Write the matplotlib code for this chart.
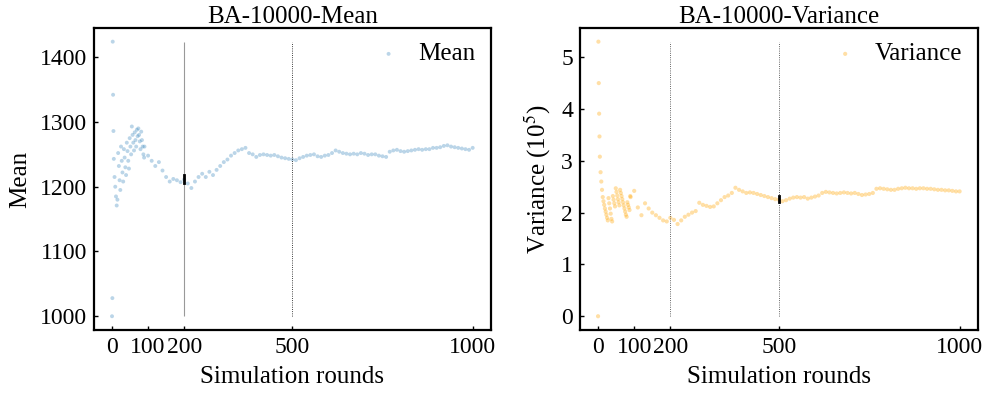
import numpy as np
import matplotlib.pyplot as plt

plt.rcParams['font.family'] = ['Liberation Serif', 'DejaVu Serif']
plt.rcParams['mathtext.fontset'] = 'stix'

# simulation rounds and values
rounds_early = [0, 1, 2, 3, 4,
                5, 7, 9, 11, 13, 15, 17, 19, 21, 23, 25, 27, 29, 31, 33, 35, 37, 39,
                41, 43, 45, 47, 49, 51, 53, 55, 57, 59, 61, 63, 65, 67, 69, 71, 73,
                75, 77, 79, 81, 83, 85, 87, 89]
mean_early = [1000, 1028, 1424, 1342, 1286,
              1243, 1215, 1200, 1185, 1171, 1180, 1252, 1232, 1210, 1195, 1262,
              1240, 1222, 1208, 1258, 1245, 1230, 1218, 1268, 1255, 1240, 1228,
              1275, 1262, 1250, 1293, 1280, 1268, 1256, 1284, 1272, 1262, 1288,
              1278, 1290, 1280, 1270, 1258, 1285, 1272, 1262, 1250, 1245]

rounds_late = list(range(90, 1001, 10))
mean_late = [1262, 1248, 1240, 1232, 1238, 1225, 1215, 1208, 1212, 1210, 1207,
             1211, 1205, 1198, 1208, 1215, 1220, 1215, 1223, 1218, 1226, 1232,
             1238, 1242, 1248, 1252, 1256, 1258, 1260, 1252, 1250, 1246, 1249,
             1250, 1249, 1248, 1249, 1247, 1245, 1244, 1243, 1242, 1241, 1244,
             1246, 1248, 1249, 1250, 1247, 1246, 1248, 1249, 1252, 1256, 1254,
             1252, 1251, 1250, 1251, 1250, 1252, 1251, 1249, 1250, 1250, 1248,
             1247, 1246, 1254, 1256, 1257, 1255, 1254, 1255, 1256, 1257, 1258,
             1257, 1258, 1258, 1260, 1260, 1261, 1263, 1264, 1262, 1261, 1260,
             1259, 1258, 1257, 1260]

var_early = [0.00, 5.30, 4.50, 3.91, 3.47,
             3.08, 2.78, 2.60, 2.44, 2.30, 2.22, 2.15, 2.08, 2.02, 1.96, 1.90,
             1.85, 2.28, 2.18, 2.08, 1.98, 1.88, 1.83, 2.32, 2.25, 2.18, 2.12,
             2.47, 2.40, 2.33, 2.26, 2.20, 2.14, 2.44, 2.38, 2.32, 2.26, 2.20,
             2.14, 2.08, 2.02, 1.96, 1.92, 2.20, 2.15, 2.10, 2.05, 2.32]
var_late = [2.30, 2.42, 2.10, 1.95, 2.18, 2.08, 2.00, 1.95, 1.90, 1.85, 1.83,
            1.90, 1.86, 1.78, 1.85, 1.92, 1.96, 2.00, 2.03, 2.19, 2.15, 2.13,
            2.11, 2.12, 2.18, 2.24, 2.30, 2.33, 2.38, 2.48, 2.44, 2.41, 2.38,
            2.39, 2.38, 2.36, 2.34, 2.32, 2.30, 2.28, 2.26, 2.25, 2.22, 2.24,
            2.27, 2.29, 2.30, 2.29, 2.30, 2.27, 2.29, 2.31, 2.33, 2.38, 2.40,
            2.39, 2.38, 2.37, 2.38, 2.39, 2.38, 2.37, 2.38, 2.36, 2.34, 2.35,
            2.36, 2.38, 2.46, 2.47, 2.46, 2.45, 2.44, 2.44, 2.46, 2.47, 2.48,
            2.47, 2.47, 2.46, 2.47, 2.47, 2.46, 2.46, 2.45, 2.44, 2.44, 2.43,
            2.43, 2.42, 2.41, 2.41]

rounds = np.array(rounds_early + rounds_late)
mean_vals = np.array(mean_early + mean_late)
var_vals = np.array(var_early + var_late)

xticks = [0, 100, 200, 500, 1000]
marks = [200, 500]
FS = 18
TFS = 17

fig = plt.figure(figsize=(9.82, 3.99), dpi=100)
ax1 = fig.add_axes([0.0957, 0.173, 0.404, 0.757])
ax2 = fig.add_axes([0.5906, 0.173, 0.405, 0.757])

def style(ax):
    for s in ax.spines.values():
        s.set_linewidth(1.6)
    ax.tick_params(direction='in', length=3, width=1, labelsize=TFS, pad=5)
    ax.set_xticks(xticks)
    ax.set_xlim(-50, 1050)
    ax.set_xlabel('Simulation rounds', fontsize=FS, labelpad=6)

# mean panel
ax1.scatter(rounds, mean_vals, s=8, color='#1f77b4', alpha=0.3,
            edgecolors='none', label='Mean')
ax1.vlines(200, mean_vals.min(), mean_vals.max(), color='#999999', lw=0.8)
ax1.vlines(500, mean_vals.min(), mean_vals.max(), color='k', lw=0.6, ls=':')
ax1.plot([200, 200], [1205, 1218], color='k', lw=2)
ax1.set_yticks([1000, 1100, 1200, 1300, 1400])
ax1.set_ylabel('Mean', fontsize=FS, labelpad=6)
ax1.set_title('BA-10000-Mean', fontsize=FS, pad=3)
style(ax1)
ax1.legend(loc='upper right', frameon=False, fontsize=FS, handletextpad=0.2,
           borderaxespad=0.2)

# variance panel
ax2.scatter(rounds, var_vals, s=9, color='#ffa500', alpha=0.35,
            edgecolors='none', label='Variance')
for m in marks:
    ax2.vlines(m, var_vals.min(), var_vals.max(), color='#333333', lw=0.6, ls=':')
ax2.plot([500, 500], [2.2, 2.32], color='k', lw=2)
ax2.set_yticks([0, 1, 2, 3, 4, 5])
ax2.set_ylabel('Variance (10$^5$)', fontsize=FS, labelpad=6)
ax2.set_title('BA-10000-Variance', fontsize=FS, pad=3)
style(ax2)
ax2.legend(loc='upper right', frameon=False, fontsize=FS, handletextpad=0.2,
           borderaxespad=0.2)

fig.savefig('out.png', dpi=100)
